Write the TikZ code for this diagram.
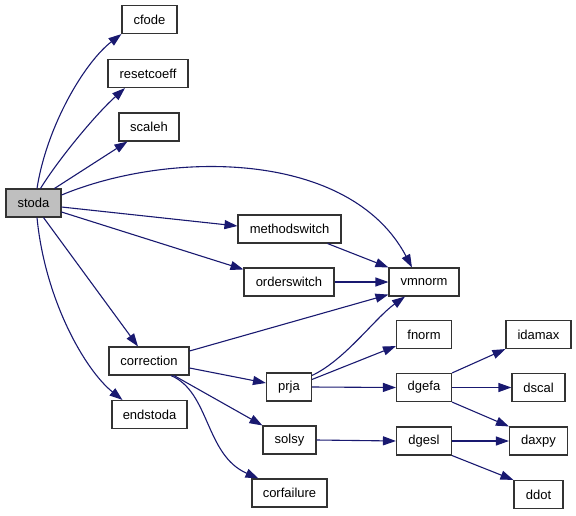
\documentclass[tikz,border=0pt]{standalone}
\usepackage{fontspec}
\setmainfont{Liberation Sans}
\usetikzlibrary{arrows.meta}
\definecolor{edgeblue}{HTML}{191970}
\definecolor{rootgray}{HTML}{BFBFBF}
\tikzset{
  box/.style={draw=black!80, line width=1.1pt, rectangle, inner xsep=0pt, inner ysep=0pt,
    minimum height=28pt, font=\fontsize{13}{15}\selectfont, text=black},
  rootbox/.style={box, fill=rootgray},
  edge/.style={draw=edgeblue, line width=1.1pt, -{Triangle[length=13pt,width=9pt]}}
}
\begin{document}
\begin{tikzpicture}[x=1pt,y=-1pt]
\useasboundingbox (0,0) rectangle (576,515);
% nodes
\node[rootbox, minimum width=55] (stoda) at (33.5,203) {stoda};
\node[box, minimum width=55] (cfode) at (149.5,19.5) {cfode};
\node[box, minimum width=80] (resetcoeff) at (148,73.5) {resetcoeff};
\node[box, minimum width=60] (scaleh) at (149,127) {scaleh};
\node[box, minimum width=103] (methodswitch) at (289.5,229) {methodswitch};
\node[box, minimum width=90] (orderswitch) at (289,282) {orderswitch};
\node[box, minimum width=80] (correction) at (149,361) {correction};
\node[box, minimum width=75] (endstoda) at (149.5,414.5) {endstoda};
\node[box, minimum width=70] (vmnorm) at (424,282) {vmnorm};
\node[box, minimum width=55] (fnorm) at (424,334.5) {fnorm};
\node[box, minimum width=55] (dgefa) at (424,387.5) {dgefa};
\node[box, minimum width=55] (dgesl) at (424,441) {dgesl};
\node[box, minimum width=45] (prja) at (289,387) {prja};
\node[box, minimum width=53] (solsy) at (289.5,440) {solsy};
\node[box, minimum width=75] (corfailure) at (289.5,493) {corfailure};
\node[box, minimum width=65] (idamax) at (538.5,334.5) {idamax};
\node[box, minimum width=53] (dscal) at (538.5,387.5) {dscal};
\node[box, minimum width=58] (daxpy) at (538.5,441) {daxpy};
\node[box, minimum width=49] (ddot) at (538.5,494.5) {ddot};
% edges
\draw[edge] ([xshift=3.5pt]stoda.north) .. controls (47,125) and (85,62) .. (cfode.south west);
\draw[edge] ([xshift=7pt]stoda.north) .. controls (58,160) and (95,115) .. ([xshift=-23pt]resetcoeff.south);
\draw[edge] ([xshift=21pt]stoda.north) -- ([xshift=9pt]scaleh.south west);
\draw[edge] ([yshift=8pt]stoda.east) .. controls (170,150) and (350,150) .. ([xshift=-12pt]vmnorm.north);
\draw[edge] ([yshift=-4pt]stoda.east) -- ([yshift=3pt]methodswitch.west);
\draw[edge] ([yshift=-9pt]stoda.east) -- ([yshift=-2pt]orderswitch.north west);
\draw[edge] ([xshift=10pt]stoda.south) -- ([xshift=-11pt]correction.north);
\draw[edge] ([xshift=3.5pt]stoda.south) .. controls (45,300) and (85,370) .. ([xshift=-27pt]endstoda.north);
\draw[edge] ([xshift=-14pt]methodswitch.south east) -- (vmnorm.north west);
\draw[edge] (orderswitch.east) -- (vmnorm.west);
\draw[edge] ([yshift=10pt]correction.east) -- ([yshift=2pt]vmnorm.south west);
\draw[edge] ([yshift=-3pt]prja.north east) .. controls (345,360) and (375,318) .. ([xshift=-19pt]vmnorm.south);
\draw[edge] ([yshift=-7pt]prja.north east) -- ([yshift=3pt]fnorm.south west);
\draw[edge] (prja.east) -- (dgefa.west);
\draw[edge] ([yshift=-7pt]correction.east) -- ([yshift=4pt]prja.west);
\draw[edge] ([xshift=25pt]correction.south) -- (solsy.north west);
\draw[edge] ([xshift=22pt]correction.south) .. controls (210,392) and (205,455) .. ([xshift=-31pt]corfailure.north);
\draw[edge] (dgefa.north east) -- (idamax.south west);
\draw[edge] (dgefa.east) -- (dscal.west);
\draw[edge] (dgefa.south east) -- (daxpy.north west);
\draw[edge] (solsy.east) -- (dgesl.west);
\draw[edge] (dgesl.east) -- (daxpy.west);
\draw[edge] (dgesl.south east) -- (ddot.north west);
\end{tikzpicture}
\end{document}
